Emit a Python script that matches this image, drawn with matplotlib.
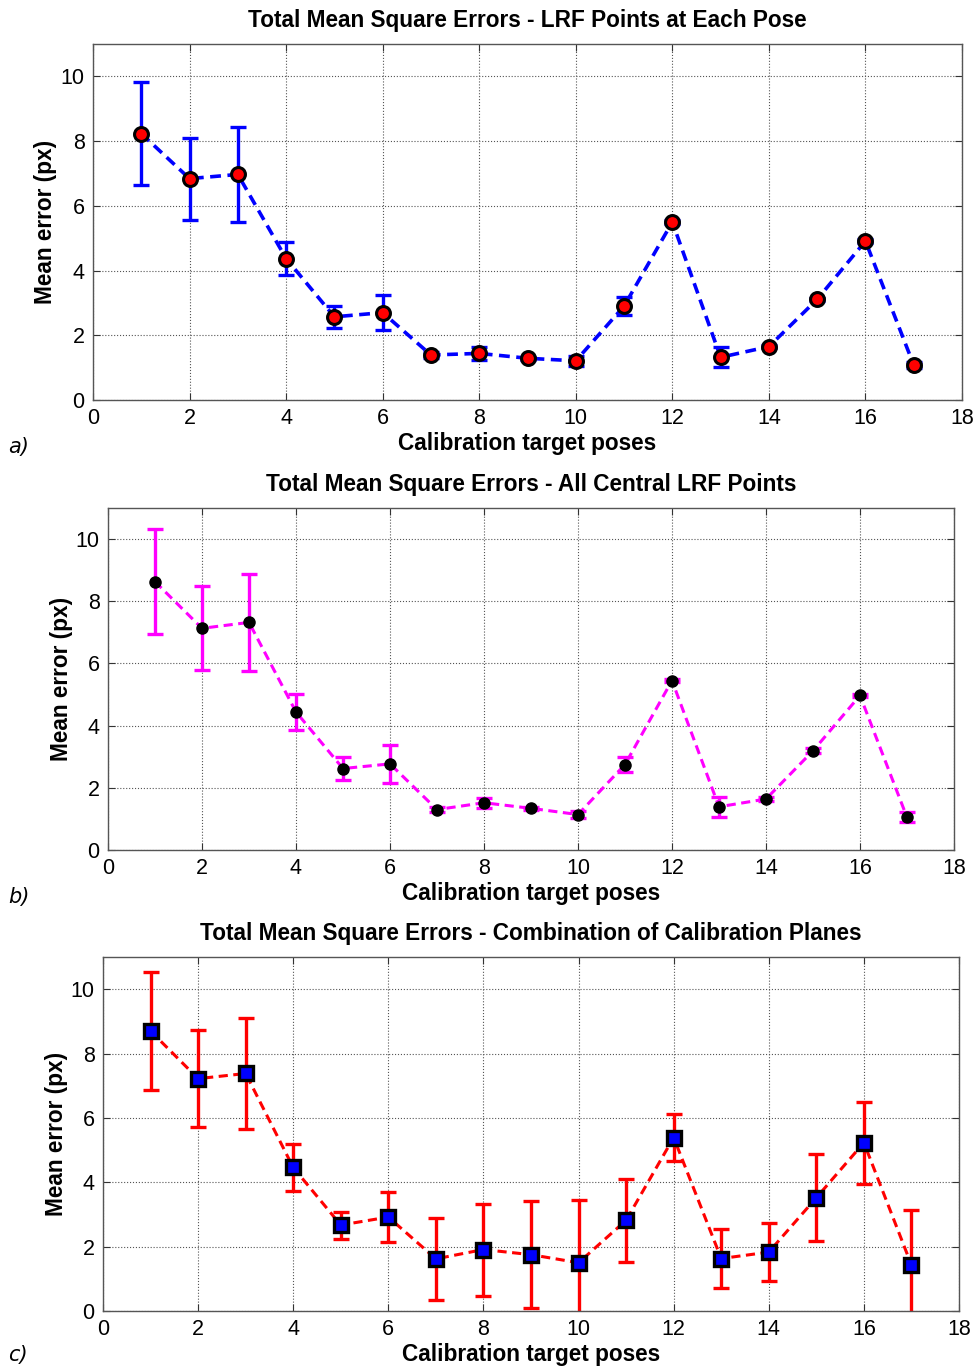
import numpy as np
import matplotlib
matplotlib.use("Agg")
import matplotlib.pyplot as plt

plt.rcParams['font.family'] = ['Liberation Sans', 'DejaVu Sans']

poses = np.arange(1, 18)

# a) LRF points at each pose
mean_a = [8.23, 6.84, 6.97, 4.37, 2.57, 2.70, 1.39, 1.44, 1.29, 1.21,
          2.90, 5.50, 1.32, 1.65, 3.11, 4.91, 1.08]
err_a = [1.59, 1.27, 1.48, 0.52, 0.33, 0.53, 0.08, 0.19, 0.05, 0.15,
         0.28, 0.05, 0.31, 0.05, 0.05, 0.05, 0.10]

# b) all central LRF points
mean_b = [8.63, 7.13, 7.32, 4.44, 2.62, 2.77, 1.30, 1.52, 1.34, 1.14,
          2.75, 5.45, 1.39, 1.64, 3.19, 4.97, 1.05]
err_b = [1.69, 1.35, 1.57, 0.59, 0.36, 0.62, 0.08, 0.16, 0.05, 0.10,
         0.24, 0.06, 0.32, 0.05, 0.08, 0.06, 0.16]

# c) combination of calibration planes
mean_c = [8.70, 7.22, 7.38, 4.46, 2.67, 2.92, 1.62, 1.91, 1.75, 1.50,
          2.82, 5.39, 1.63, 1.83, 3.52, 5.23, 1.43]
err_c = [1.82, 1.50, 1.72, 0.74, 0.42, 0.77, 1.28, 1.43, 1.66, 1.94,
         1.29, 0.72, 0.92, 0.91, 1.36, 1.27, 1.72]

titles = ['Total Mean Square Errors - LRF Points at Each Pose',
          'Total Mean Square Errors - All Central LRF Points',
          'Total Mean Square Errors - Combination of Calibration Planes']
tags = ['a)', 'b)', 'c)']

W, H = 976, 1366
fig = plt.figure(figsize=(W / 100, H / 100), dpi=100)


def px_axes(left, top, right, bottom):
    return fig.add_axes([left / W, 1 - bottom / H, (right - left) / W, (bottom - top) / H])


boxes = [(93, 44, 962, 400), (108, 508, 954, 850), (103, 957, 959, 1311)]
styles = [
    dict(ecol='#0000ff', lcol='#0000ff', marker='o', mfc='#ff0000', mec='black', ms=10, mew=2.2, lw=2.6),
    dict(ecol='#ff00ff', lcol='#ff00ff', marker='o', mfc='black', mec='black', ms=8, mew=1.0, lw=2.2),
    dict(ecol='#ff0000', lcol='#ff0000', marker='s', mfc='#0000ff', mec='black', ms=9.5, mew=2.4, lw=2.2),
]
data = [(mean_a, err_a), (mean_b, err_b), (mean_c, err_c)]
ylab_x = [57, 73, 68]   # right edge of rotated y label, px
tag_y = [447, 897, 1355]

for i, ax_box in enumerate(boxes):
    ax = px_axes(*ax_box)
    st = styles[i]
    m, e = data[i]
    ax.errorbar(poses, m, yerr=e, fmt='none', ecolor=st['ecol'], elinewidth=2.4,
                capsize=6, capthick=2.4, zorder=2)
    ax.plot(poses, m, linestyle='--', dashes=(3, 1.8), color=st['lcol'], lw=st['lw'],
            marker=st['marker'], mfc=st['mfc'], mec=st['mec'], ms=st['ms'], mew=st['mew'], zorder=3)
    ax.set_xlim(0, 18)
    ax.set_ylim(0, 11)
    ax.set_xticks(np.arange(0, 19, 2))
    ax.set_yticks(np.arange(0, 11, 2))
    ax.grid(True, linestyle=':', color='#555555', linewidth=0.8)
    ax.tick_params(direction='in', top=True, right=True, labelsize=15.5, length=5, width=0.8,
                   colors='#333333', labelcolor='black', pad=6)
    for s in ax.spines.values():
        s.set_color('#555555')
        s.set_linewidth(1.0)
    ax.set_title(titles[i], fontsize=16.3, fontweight='bold', pad=12)
    ax.set_xlabel('Calibration target poses', fontsize=16.3, fontweight='bold', labelpad=2)
    ax.set_ylabel('Mean error (px)', fontsize=16.3, fontweight='bold')
    ax.yaxis.set_label_coords((ylab_x[i] - ax_box[0]) / (ax_box[2] - ax_box[0]), 0.5)
    fig.text(8 / W, 1 - tag_y[i] / H, tags[i], fontsize=15, style='italic',
             family='DejaVu Sans', va='center', ha='left')

fig.savefig('out.png', dpi=100)
